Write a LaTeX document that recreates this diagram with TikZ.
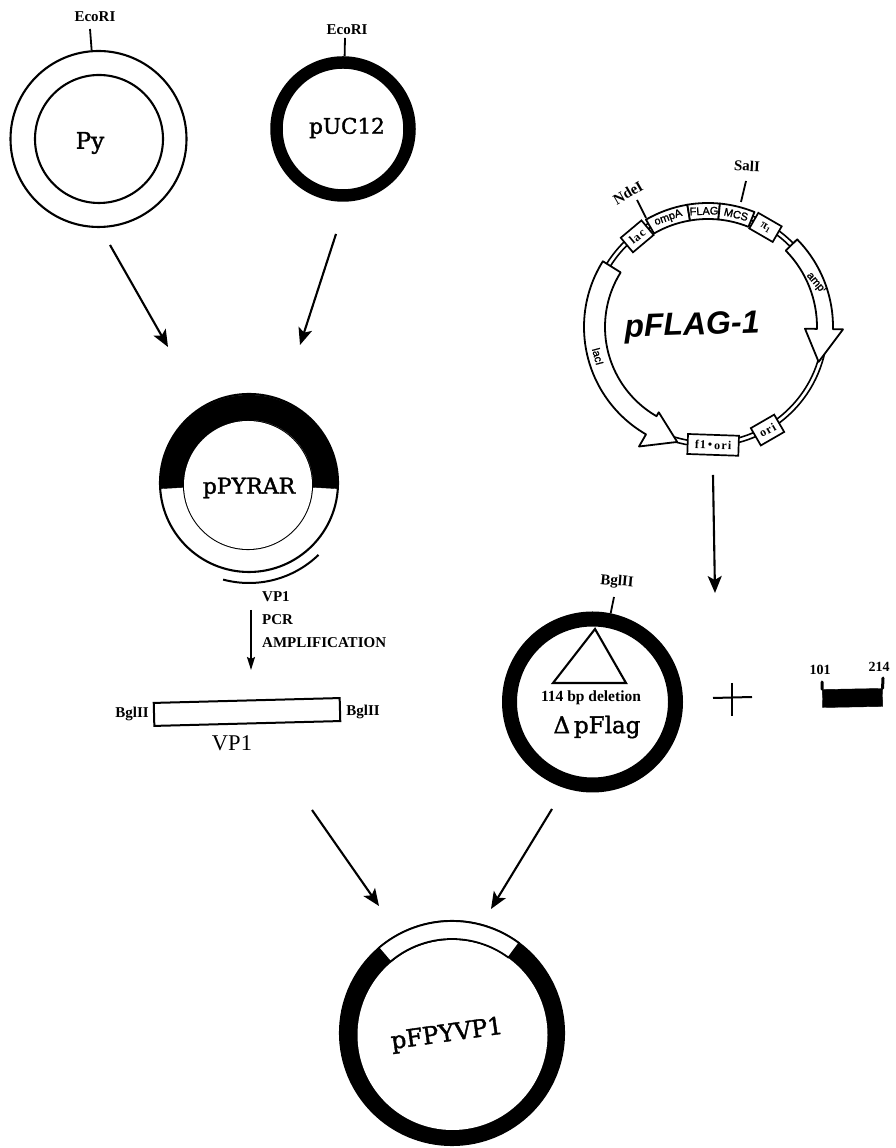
\documentclass[tikz,border=0pt]{standalone}
\usepackage{fontspec}
\setmainfont{Liberation Serif}
\newfontfamily\slabfont[RawFeature={embolden=1.6}]{DejaVu Serif}
\newfontfamily\arialfont{Liberation Sans}
\newfontfamily\genefont[RawFeature={embolden=1.2}]{Liberation Sans}
\usetikzlibrary{arrows.meta}

% Settore di anello: centro x, centro y, angoli, raggi, stile
\newcommand{\ringsector}[7]{%
    \draw[#7, shift={(#1,#2)}] (#3:#6) arc (#3:#4:#6) -- (#4:#5) arc (#4:#3:#5) -- cycle;
}

\tikzset{
    plasmid/.style={circle, draw, inner sep=0pt, line width=2.1pt},
    flow/.style={-{Stealth[length=17pt, width=14pt, inset=4pt]}, line width=2.1pt},
    tickline/.style={line width=1.8pt},
    site/.style={font=\bfseries\fontsize{15}{15}\selectfont, inner sep=0pt},
    slab/.style={font=\slabfont\fontsize{#1}{#1}\selectfont, inner sep=0pt},
    gene/.style={draw, fill=white, line width=1.7pt, inner sep=0pt, font=\bfseries\fontsize{12}{12}\selectfont\addfontfeature{LetterSpace=10}},
    genetext/.style={inner sep=0pt, font=\genefont\fontsize{11}{11}\selectfont},
    outline/.style={draw, fill=white, line width=1.8pt, line join=round},
}

\begin{document}
\begin{tikzpicture}[x=1pt, y=1pt]
    \useasboundingbox (0,0) rectangle (895,1148);

    % Py
    \node[plasmid, minimum size=176pt] (py) at (98.5,1009) {};
    \node[plasmid, minimum size=128pt] (pyin) at (99,1009) {};
    \node[slab=23] (pytext) at (90,1005) {Py};
    \coordinate (pytick) at (90,1119);
    \draw[tickline] (pytick) -- (py);
    \node[site] (pysite) at (95,1131) {EcoRI};

    % pUC12
    \node[plasmid, line width=12.5pt, minimum size=133pt] (puc) at (343,1019) {};
    \node[slab=21.5] (puctext) at (347,1020) {pUC12};
    \coordinate (puctick) at (345,1110);
    \draw[tickline] (puctick) -- (puc);
    \node[site] (pucsite) at (347,1118) {EcoRI};

    % pPYRAR
    \node[plasmid, minimum size=178pt] (ppyrar) at (249,665) {};
    \node[plasmid, minimum size=128pt] (ppyrarin) at (248,663) {};
    \ringsector{249}{664}{-3}{183}{64}{89}{fill=black}
    \node[plasmid, draw=none, fill=white, minimum size=128pt] (ppyrarhole) at (248,663) {};
    \node[slab=22] (ppyrartext) at (249,660) {pPYRAR};
    \draw[line width=2pt, shift={(249,665)}] (255:100) arc (255:314:100);

    % PCR
    \node[site, anchor=west] (vpsmall) at (262,551) {VP1};
    \node[site, anchor=west] (pcr) at (262,528) {PCR};
    \node[site, anchor=west] (ampl) at (262,505) {AMPLIFICATION};
    \coordinate (pcrstart) at (251,538);
    \coordinate (pcrend) at (251,478);
    \draw[-{Stealth[length=13pt, width=8pt, inset=2pt]}, line width=1.8pt] (pcrstart) -- (pcrend);

    % Frammento VP1
    \node[draw, line width=2pt, minimum width=186pt, minimum height=23pt, rotate=1.5] (vpbox) at (247,436) {};
    \node[site] (bgleft) at (132,434) {BglII};
    \node[site] (bgright) at (363,436) {BglII};
    \node[inner sep=0pt, font=\fontsize{22.5}{22.5}\selectfont] (vptext) at (232,405) {VP1};

    % pFLAG-1
    \begin{scope}[shift={(708,821)}]
        \draw[line width=1.6pt] (0,0) circle (115);
        \draw[line width=1.6pt] (0,0) circle (119.5);
        % Freccia lacI
        \draw[outline] (148:124) arc (148:240:124) -- (240:138) -- (255:119)
            -- (240:98.5) -- (240:103) arc (240:148:103) -- cycle;
        % Freccia amp
        \draw[outline] (44.5:125) arc (44.5:-1:125) -- (-1:135) -- (-17.5:116)
            -- (-1:97) -- (-1:109) arc (-1:44.5:109) -- cycle;
        % Settori ompA, FLAG, MCS
        \ringsector{0}{0}{99.6}{120}{108}{124}{outline}
        \ringsector{0}{0}{84.5}{99.6}{108}{124}{outline}
        \ringsector{0}{0}{68}{84.5}{108}{124}{outline}
        \node[genetext, rotate=20] (ompa) at (110:116) {ompA};
        \node[genetext, rotate=2] (flag) at (92:116) {FLAG};
        \node[genetext, rotate=-14] (mcs) at (76:116) {MCS};
        % Riquadri
        \node[gene, rotate=40, minimum width=27pt, minimum height=19pt] (lac) at (128:115) {lac};
        \node[gene, rotate=-30, minimum width=27pt, minimum height=18pt] (pione) at (60:115) {π\textsubscript{1}};
        \node[gene, rotate=-2, minimum width=51pt, minimum height=20pt] (fori) at (-87.5:118) {f1\,\textbullet\,ori};
        \node[gene, rotate=30, minimum width=27pt, minimum height=20pt] (ori) at (-60:119) {ori};
        \node[genetext, rotate=-50] (amp) at (22:117) {amp\textsuperscript{r}};
        \node[genetext, rotate=-75] (laci) at (195:114) {lacI};
    \end{scope}
    \node[inner sep=0pt, font=\arialfont\bfseries\itshape\fontsize{32}{32}\selectfont, rotate=2] (pflagtext) at (692,821) {pFLAG-1};
    \coordinate (ndetick) at (637,948);
    \coordinate (ndering) at (646,930);
    \draw[tickline] (ndetick) -- (ndering);
    \node[site, rotate=30] (ndesite) at (628,955) {NdeI};
    \coordinate (saltick) at (746,967);
    \coordinate (salring) at (741,946);
    \draw[tickline] (saltick) -- (salring);
    \node[site, rotate=-3] (salsite) at (747,982) {SalI};

    % Delta pFlag
    \node[plasmid, line width=15pt, minimum size=166pt] (dflag) at (592.5,446) {};
    \coordinate (dflagtick) at (614,551);
    \draw[tickline] (dflagtick) -- (dflag);
    \node[site, rotate=-5] (dflagsite) at (617,566) {BglII};
    \coordinate (triA) at (595,519);
    \coordinate (triB) at (553,465);
    \coordinate (triC) at (626,465);
    \draw[line width=2.1pt, line join=miter] (triA) -- (triB) -- (triC) -- cycle;
    \node[site, font=\bfseries\fontsize{15.5}{15.5}\selectfont] (deletion) at (591,450) {114 bp deletion};
    \node[slab=23] (dflagtext) at (597,421) {Δ\,pFlag};

    % Piu'
    \draw[line width=2pt] (713,450) -- (752,451);
    \draw[line width=2pt] (732,465) -- (732,432);

    % Frammento 101-214
    \node[draw, fill=black, minimum width=60pt, minimum height=18pt, inner sep=0pt, rotate=1] (frag) at (852.5,450) {};
    \coordinate (postl) at (822,466);
    \coordinate (postr) at (883,470);
    \draw[line width=3pt, line cap=round] (postl) -- (frag.north west);
    \draw[line width=3pt, line cap=round] (postr) -- (frag.north east);
    \node[site, font=\bfseries\fontsize{14}{14}\selectfont] (lab101) at (820,478) {101};
    \node[site, font=\bfseries\fontsize{14}{14}\selectfont] (lab214) at (879,481) {214};

    % pFPYVP1
    \node[plasmid, fill=black, minimum size=224pt] (pfpy) at (452,115) {};
    \node[circle, fill=white, inner sep=0pt, minimum size=190pt] (pfpyin) at (452.5,113) {};
    \ringsector{452}{114}{53.5}{130.5}{95}{113}{outline}
    \node[slab=24, rotate=8] (pfpytext) at (447,113) {pFPYVP1};

    % Frecce
    \coordinate (a1s) at (110,903);
    \coordinate (a1e) at (168,801);
    \coordinate (a2s) at (336,914);
    \coordinate (a2e) at (300,803);
    \coordinate (a3s) at (713,673);
    \coordinate (a3e) at (715,555);
    \coordinate (a5s) at (312,338);
    \coordinate (a5e) at (379,242);
    \coordinate (a6s) at (552,339);
    \coordinate (a6e) at (491,239);
    \foreach \s/\e in {a1s/a1e, a2s/a2e, a3s/a3e, a5s/a5e, a6s/a6e} {
        \draw[flow] (\s) -- (\e);
    }
\end{tikzpicture}
\end{document}
